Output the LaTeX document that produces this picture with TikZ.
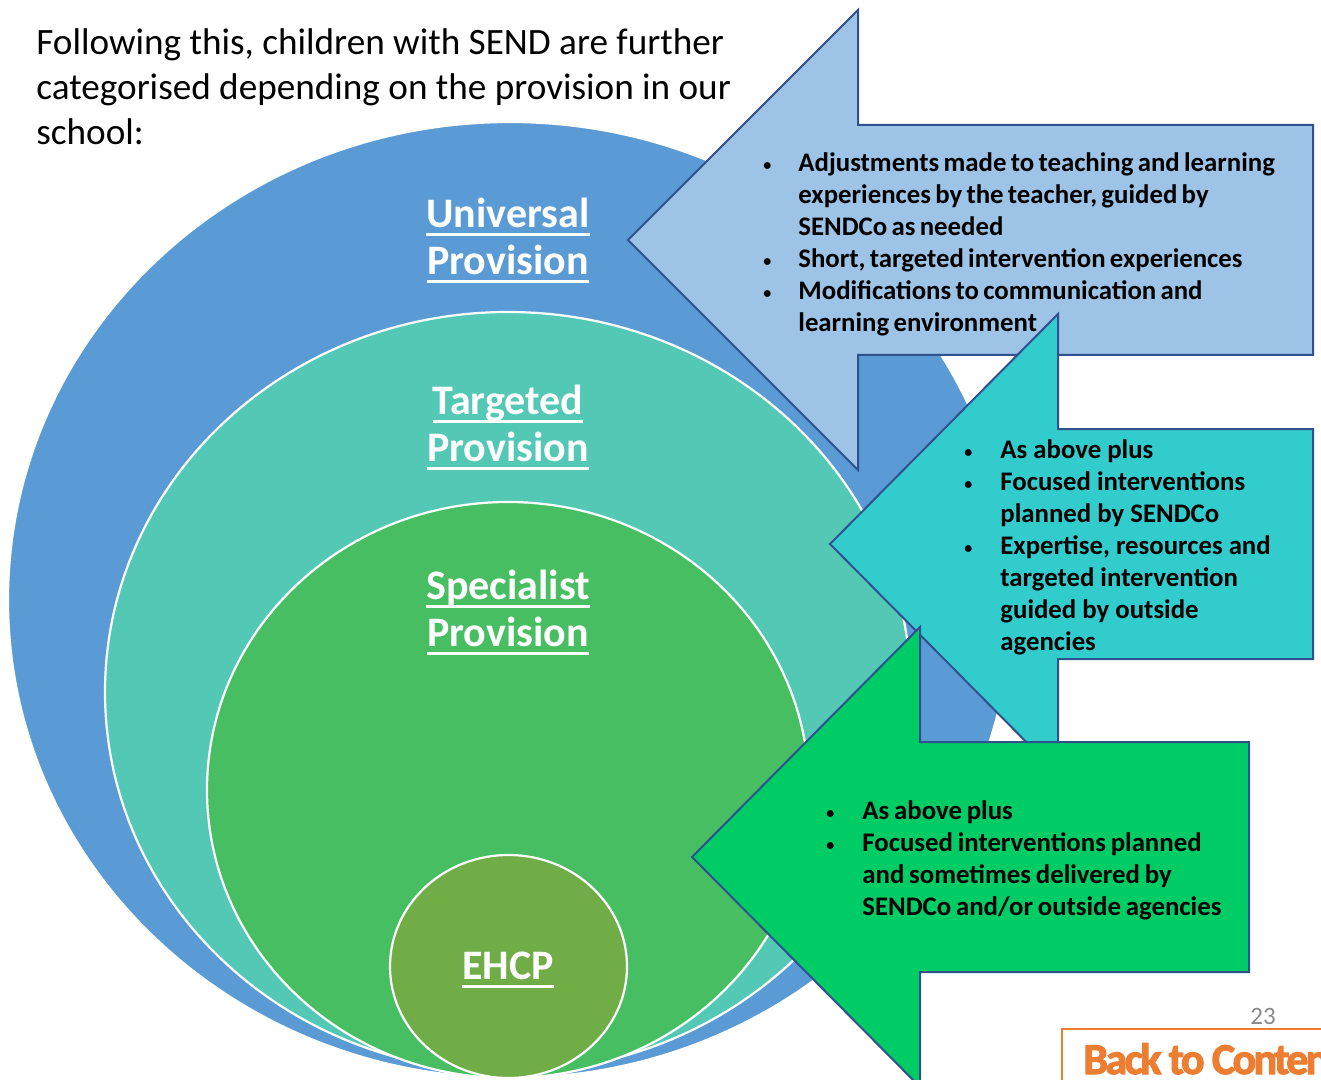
\documentclass[tikz,border=0pt]{standalone}
\usepackage{fontspec}
\setmainfont{Carlito}
\newsavebox{\provbox}
\newcommand{\provline}[1]{\sbox{\provbox}{#1}%
  \rlap{\rule[-4.2pt]{\wd\provbox}{1.3pt}}\usebox{\provbox}}
\newcommand{\notedot}{\raisebox{0.6pt}{\fontsize{8}{10}\selectfont\textbullet}}
\definecolor{ringblue}{HTML}{5B9BD5}
\definecolor{ringteal}{HTML}{53C9B5}
\definecolor{ringgreen}{HTML}{48BE63}
\definecolor{ringehcp}{HTML}{70AD47}
\definecolor{callblue}{HTML}{9DC3E6}
\definecolor{callteal}{HTML}{33CCCC}
\definecolor{callgreen}{HTML}{00CC66}
\definecolor{calledge}{HTML}{2F528F}
\definecolor{backorange}{HTML}{ED7D31}
\definecolor{pagegrey}{HTML}{898989}
\tikzset{
  ring/.style={draw=white,line width=1.1pt},
  callout/.style={draw=calledge,line width=1pt,line join=miter},
  ringlabel/.style={anchor=north,inner sep=0pt,text=white,
    font=\fontsize{21}{23.5}\selectfont\bfseries},
  notes/.style={anchor=north west,inner sep=0pt,text=black,
    font=\fontsize{13.4}{16}\selectfont\bfseries},
  titletext/.style={anchor=north west,inner sep=0pt,text=black,
    font=\fontsize{18.6}{22.5}\selectfont},
}

\begin{document}
\begin{tikzpicture}[x=0.5pt,y=-0.5pt]
  \useasboundingbox (0,0) rectangle (1321,1080);
  \clip (0,0) rectangle (1321,1080);
  % nested provision rings, outermost first
  \draw[ring,fill=ringblue]  (510,600) ellipse [x radius=502,y radius=478];
  \draw[ring,fill=ringteal]  (508,692) ellipse [x radius=403,y radius=380];
  \draw[ring,fill=ringgreen] (508,790) ellipse [x radius=301,y radius=288];
  \draw[ring,fill=ringehcp]  (508.5,966.5) ellipse [x radius=118.5,y radius=111.5];
  \node[ringlabel] (univ) at (508,194)
    {\begin{tabular}{@{}c@{}}\provline{Universal}\\\provline{Provision}\end{tabular}};
  \node[ringlabel] (targ) at (508,381)
    {\begin{tabular}{@{}c@{}}\provline{Targeted}\\\provline{Provision}\end{tabular}};
  \node[ringlabel] (spec) at (508,566)
    {\begin{tabular}{@{}c@{}}\provline{Specialist}\\\provline{Provision}\end{tabular}};
  \node[ringlabel] (ehcp) at (508,946)
    {\begin{tabular}{@{}c@{}}\provline{EHCP}\end{tabular}};
  % left-pointing callouts: tip x/y, head x, shaft end x
  \foreach \tx/\ty/\hx/\ex/\cl in {628/240/858/1313/callblue,
      830/544/1058/1313/callteal, 692/857/920/1249/callgreen}
    \draw[callout,fill=\cl] (\tx,\ty) -- (\hx,\ty-230) -- (\hx,\ty-115)
      -- (\ex,\ty-115) -- (\ex,\ty+115) -- (\hx,\ty+115)
      -- (\hx,\ty+230) -- cycle;
  \node[titletext] (title) at (36,23)
    {\begin{tabular}{@{}l@{}}Following this, children with SEND are further\\
      categorised depending on the provision in our\\school:\end{tabular}};
  \node[notes] (notes1) at (763,149)
    {\spaceskip=0.16em\begin{tabular}{@{}p{17.5pt}@{}l@{}}
      \notedot & Adjustments made to teaching and learning\\
               & experiences by the teacher, guided by\\
               & SENDCo as needed\\
      \notedot & Short, targeted intervention experiences\\
      \notedot & Modifications to communication and\\
               & learning environment
    \end{tabular}};
  \node[notes] (notes2) at (964,436)
    {\begin{tabular}{@{}p{18pt}@{}l@{}}
      \notedot & As above plus\\
      \notedot & Focused interventions\\
               & planned by SENDCo\\
      \notedot & Expertise, resources and\\
               & targeted intervention\\
               & guided by outside\\
               & agencies
    \end{tabular}};
  \node[notes] (notes3) at (826,797)
    {\spaceskip=0.18em\begin{tabular}{@{}p{18pt}@{}l@{}}
      \notedot & As above plus\\
      \notedot & Focused interventions planned\\
               & and sometimes delivered by\\
               & SENDCo and/or outside agencies
    \end{tabular}};
  % slide footer
  \node[text=pagegrey,font=\fontsize{12.5}{14}\selectfont] (pageno) at (1263,1016) {23};
  \draw[draw=backorange,line width=1pt] (1062,1029) rectangle (1340,1100);
  \node[anchor=base west,inner sep=0pt,text=backorange,
    font=\fontsize{22}{24}\selectfont\bfseries\addfontfeatures{FakeBold=2.5,LetterSpace=-6}]
    (backbtn) at (1083,1074) {Back to Content};
\end{tikzpicture}
\end{document}
